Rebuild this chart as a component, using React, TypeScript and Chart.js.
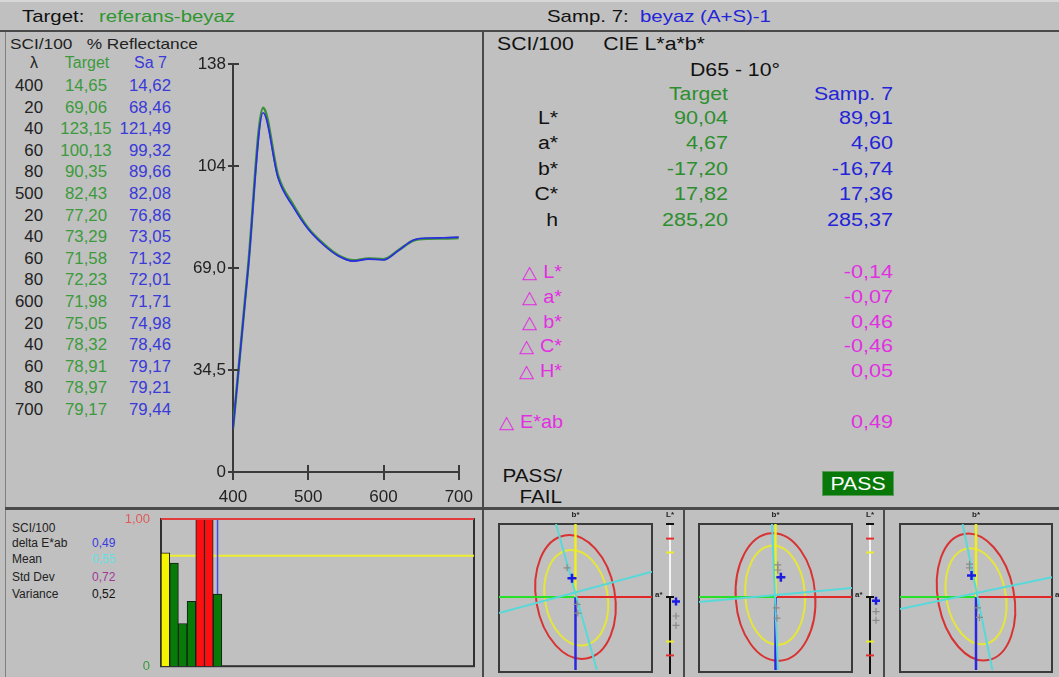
import React, { useEffect, useRef } from 'react';
import { Chart, registerables } from 'chart.js';
Chart.register(...registerables);

const FONT = '"Liberation Sans", Arial, Helvetica, sans-serif';
const BG = '#c0c0c0';
const AXIS = '#3a3a3a';
const GREEN_TXT = '#2e8e2e';
const BLUE_TXT = '#2424d8';
const MAGENTA = '#e030e0';

// ---------- spectral data ----------
const wavelengths = [400, 420, 440, 460, 480, 500, 520, 540, 560, 580, 600, 620, 640, 660, 680, 700];
const lambdaLabels = ['400', '20', '40', '60', '80', '500', '20', '40', '60', '80', '600', '20', '40', '60', '80', '700'];
const targetReflectance = [14.65, 69.06, 123.15, 100.13, 90.35, 82.43, 77.2, 73.29, 71.58, 72.23, 71.98, 75.05, 78.32, 78.91, 78.97, 79.17];
const sampleReflectance = [14.62, 68.46, 121.49, 99.32, 89.66, 82.08, 76.86, 73.05, 71.32, 72.01, 71.71, 74.98, 78.46, 79.17, 79.21, 79.44];
const yTickValues = [0, 34.5, 69, 103.5, 138];
const yTickLabels = ['0', '34,5', '69,0', '104', '138'];
const xTickValues = [400, 500, 600, 700];
const xTickLabels = ['400', '500', '600', '700'];

// ---------- CIELAB data ----------
const labLabels = ['L*', 'a*', 'b*', 'C*', 'h'];
const labTarget = ['90,04', '4,67', '-17,20', '17,82', '285,20'];
const labSample = ['89,91', '4,60', '-16,74', '17,36', '285,37'];
const deltaLabels = ['\u25B3 L*', '\u25B3 a*', '\u25B3 b*', '\u25B3 C*', '\u25B3 H*'];
const deltaValues = ['-0,14', '-0,07', '0,46', '-0,46', '0,05'];
const deltaELabel = '\u25B3 E*ab';
const deltaEValue = '0,49';

// ---------- statistics / bar data ----------
const statLabels = ['SCI/100', 'delta E*ab', 'Mean', 'Std Dev', 'Variance'];
const statValues = ['', '0,49', '0,55', '0,72', '0,52'];
const statColors = ['#111', '#3a3ae0', '#60e0e0', '#a03898', '#111'];
const barValues = [0.77, 0.7, 0.29, 0.44, 1.0, 1.0, 0.49];
const barColors = ['#f4f400', '#077a07', '#077a07', '#077a07', '#ff1010', '#ff1010', '#077a07'];
const barSlots = Array.from({ length: 36 }, (_, i) => String(i + 1));
const barLimit = 1.0;
const barMeanLine = 0.75;
const barCurrentIndex = 6;
const barTickValues = [0, 1];
const barTickLabels = ['0', '1,00'];

// ---------- tolerance plots (a*/b* normalised to tolerance box) ----------
const redEllipses = [
  { cx: 0, cy: 0, rx: 0.515, ry: 0.855, rot: -10 },
  { cx: 0, cy: 0, rx: 0.52, ry: 0.875, rot: -4 },
  { cx: 0, cy: 0, rx: 0.5, ry: 0.88, rot: -11 },
];
const yellowEllipses = [
  { cx: 0.01, cy: -0.01, rx: 0.41, ry: 0.66, rot: -10 },
  { cx: -0.005, cy: 0.025, rx: 0.39, ry: 0.68, rot: -4 },
  { cx: 0, cy: 0.01, rx: 0.39, ry: 0.665, rot: -11 },
];
const hueLines = [
  [{ x: -0.255, y: 1 }, { x: 0.28, y: -1 }],
  [{ x: -0.046, y: 1 }, { x: 0.033, y: -1 }],
  [{ x: -0.176, y: 1 }, { x: 0.216, y: -1 }],
];
const chromaLines = [
  [{ x: -1, y: -0.22 }, { x: 1, y: 0.345 }],
  [{ x: -1, y: -0.07 }, { x: 1, y: 0.125 }],
  [{ x: -1, y: -0.165 }, { x: 1, y: 0.27 }],
];
const sampleAB = [
  { x: -0.046, y: 0.257 },
  { x: 0.07, y: 0.27 },
  { x: -0.059, y: 0.296 },
];
const otherAB = [
  [{ x: -0.11, y: 0.4 }, { x: 0.02, y: -0.1 }, { x: 0.03, y: -0.22 }],
  [{ x: 0.03, y: 0.44 }, { x: 0.03, y: 0.37 }, { x: 0.01, y: -0.15 }, { x: 0.02, y: -0.29 }],
  [{ x: -0.085, y: 0.45 }, { x: -0.085, y: 0.4 }, { x: 0.02, y: -0.15 }, { x: 0.045, y: -0.28 }],
];
const sampleL = [-0.06, -0.05, -0.05];
const otherL = [[-0.26, -0.39], [-0.2, -0.32], [-0.2, -0.32]];
const lRedTol = 0.8;
const lYellowTol = 0.61;

// ---------- text helper ----------
function T(props: any) {
  const { x, y, children, color = '#111', size = 16, align = 'left', sx = 1.0, weight = 400 } = props;
  const tx = align === 'right' ? '-100%' : align === 'center' ? '-50%' : '0';
  const origin = align === 'right' ? 'right center' : align === 'center' ? 'center center' : 'left center';
  return (
    <div
      style={{
        position: 'absolute',
        left: x,
        top: y,
        color,
        fontSize: size,
        fontWeight: weight,
        fontFamily: FONT,
        whiteSpace: 'pre',
        lineHeight: 1,
        transform: `translate(${tx}, -50%) scaleX(${sx})`,
        transformOrigin: origin,
      }}
    >
      {children}
    </div>
  );
}

function Line(props: any) {
  const { x, y, w, h, color = '#4a4a4a' } = props;
  return <div style={{ position: 'absolute', left: x, top: y, width: w, height: h, background: color }} />;
}

// ---------- spectrum chart ----------
function SpectrumChart() {
  const ref = useRef<HTMLCanvasElement>(null);
  useEffect(() => {
    const crossTicks = {
      id: 'crossTicks',
      afterDraw(chart: any) {
        const { ctx, chartArea, scales } = chart;
        ctx.save();
        ctx.strokeStyle = AXIS;
        ctx.lineWidth = 2;
        ctx.beginPath();
        yTickValues.forEach((v) => {
          const y = Math.round(scales.y.getPixelForValue(v));
          ctx.moveTo(chartArea.left, y);
          ctx.lineTo(chartArea.left + 6, y);
        });
        xTickValues.forEach((v) => {
          const x = Math.round(scales.x.getPixelForValue(v));
          ctx.moveTo(x, chartArea.bottom);
          ctx.lineTo(x, chartArea.bottom - 7);
        });
        ctx.stroke();
        ctx.restore();
      },
    };
    const chart = new Chart(ref.current as HTMLCanvasElement, {
      type: 'line',
      data: {
        datasets: [
          {
            label: 'Sa 7',
            data: wavelengths.map((w, i) => ({ x: w, y: sampleReflectance[i] })),
            borderColor: '#2a2ae8',
            borderWidth: 1.6,
            pointRadius: 0,
            cubicInterpolationMode: 'monotone',
          },
          {
            label: 'Target',
            data: wavelengths.map((w, i) => ({ x: w, y: targetReflectance[i] })),
            borderColor: '#3b8f3b',
            borderWidth: 2.6,
            pointRadius: 0,
            cubicInterpolationMode: 'monotone',
          },
        ],
      },
      options: {
        animation: false,
        responsive: false,
        maintainAspectRatio: false,
        layout: { padding: { top: 14, right: 17, left: 0, bottom: 0 } },
        plugins: { legend: { display: false }, tooltip: { enabled: false } },
        scales: {
          x: {
            type: 'linear',
            min: 400,
            max: 700,
            afterBuildTicks: (s: any) => {
              s.ticks = xTickValues.map((v) => ({ value: v }));
            },
            afterFit: (s: any) => {
              s.height = 33;
            },
            grid: { drawOnChartArea: false, drawTicks: true, tickLength: 8, color: AXIS, lineWidth: 2 },
            border: { color: AXIS, width: 2 },
            ticks: {
              color: '#222',
              font: { family: FONT, size: 17 },
              padding: 7,
              maxRotation: 0,
              autoSkip: false,
              callback: (_v: any, i: number) => xTickLabels[i],
            },
          },
          y: {
            type: 'linear',
            min: 0,
            max: 138,
            afterBuildTicks: (s: any) => {
              s.ticks = yTickValues.map((v) => ({ value: v }));
            },
            afterFit: (s: any) => {
              s.width = 53;
            },
            grid: { drawOnChartArea: false, drawTicks: true, tickLength: 5, color: AXIS, lineWidth: 2 },
            border: { color: AXIS, width: 2 },
            ticks: {
              color: '#222',
              font: { family: FONT, size: 17 },
              padding: 2,
              autoSkip: false,
              callback: (_v: any, i: number) => yTickLabels[i],
            },
          },
        },
      } as any,
      plugins: [crossTicks],
    });
    return () => chart.destroy();
  }, []);
  return (
    <canvas
      ref={ref}
      width={300}
      height={455}
      style={{ position: 'absolute', left: 180, top: 50, width: 300, height: 455 }}
    />
  );
}

// ---------- delta E bar chart ----------
function DeltaBarChart() {
  const ref = useRef<HTMLCanvasElement>(null);
  useEffect(() => {
    const decor = {
      id: 'decor',
      beforeDatasetsDraw(chart: any) {
        const { ctx, chartArea: a, scales } = chart;
        ctx.save();
        ctx.strokeStyle = '#303030';
        ctx.lineWidth = 2;
        ctx.strokeRect(a.left, a.top, a.right - a.left, a.bottom - a.top);
        const ym = scales.y.getPixelForValue(barMeanLine);
        ctx.strokeStyle = '#eeee30';
        ctx.lineWidth = 2;
        ctx.beginPath();
        ctx.moveTo(a.left, ym);
        ctx.lineTo(a.right, ym);
        ctx.stroke();
        const xb = scales.x.getPixelForValue(barCurrentIndex);
        ctx.strokeStyle = '#4848f0';
        ctx.lineWidth = 1.5;
        ctx.beginPath();
        ctx.moveTo(xb, a.top);
        ctx.lineTo(xb, a.bottom);
        ctx.stroke();
        ctx.restore();
      },
      afterDatasetsDraw(chart: any) {
        const { ctx, chartArea: a, scales } = chart;
        ctx.save();
        const yl = scales.y.getPixelForValue(barLimit);
        ctx.strokeStyle = '#e03c3c';
        ctx.lineWidth = 2;
        ctx.beginPath();
        ctx.moveTo(a.left, yl);
        ctx.lineTo(a.right, yl);
        ctx.stroke();
        ctx.restore();
      },
    };
    const chart = new Chart(ref.current as HTMLCanvasElement, {
      type: 'bar',
      data: {
        labels: barSlots,
        datasets: [
          {
            data: barValues,
            backgroundColor: barColors,
            borderColor: '#1a1a1a',
            borderWidth: 1,
            barPercentage: 1,
            categoryPercentage: 1,
          },
        ],
      },
      options: {
        animation: false,
        responsive: false,
        maintainAspectRatio: false,
        layout: { padding: { top: 11, right: 6, bottom: 6, left: 0 } },
        plugins: { legend: { display: false }, tooltip: { enabled: false } },
        scales: {
          x: { display: false },
          y: {
            min: 0,
            max: 1,
            afterBuildTicks: (s: any) => {
              s.ticks = barTickValues.map((v) => ({ value: v }));
            },
            afterFit: (s: any) => {
              s.width = 41;
            },
            grid: { display: false },
            border: { display: false },
            ticks: {
              padding: 3,
              font: { family: FONT, size: 13 },
              color: (c: any) => (c.tick && c.tick.value === 1 ? '#e05a5a' : '#3a9a3a'),
              callback: (_v: any, i: number) => barTickLabels[i],
            },
          },
        },
      } as any,
      plugins: [decor],
    });
    return () => chart.destroy();
  }, []);
  return (
    <canvas
      ref={ref}
      width={360}
      height={169}
      style={{ position: 'absolute', left: 120, top: 508, width: 360, height: 169 }}
    />
  );
}

// ---------- tolerance ellipse plot ----------
function TolerancePlot(props: any) {
  const { index, left, width, padLeft, padRight } = props;
  const ref = useRef<HTMLCanvasElement>(null);
  useEffect(() => {
    const cross = (ctx: any, x: number, y: number, r: number, color: string, lw: number) => {
      ctx.strokeStyle = color;
      ctx.lineWidth = lw;
      ctx.beginPath();
      ctx.moveTo(x - r, y);
      ctx.lineTo(x + r, y);
      ctx.moveTo(x, y - r);
      ctx.lineTo(x, y + r);
      ctx.stroke();
    };
    const tol = {
      id: 'tol',
      beforeDatasetsDraw(chart: any) {
        const { ctx, chartArea: a, scales } = chart;
        const xs = scales.x;
        const ys = scales.y;
        ctx.save();
        ctx.strokeStyle = '#3a3a3a';
        ctx.lineWidth = 2;
        ctx.strokeRect(a.left, a.top, a.right - a.left, a.bottom - a.top + 2);
        // L* bar
        const lx = a.right + 18;
        const y0 = ys.getPixelForValue(0);
        ctx.lineWidth = 2;
        ctx.strokeStyle = '#f4f4f4';
        ctx.beginPath();
        ctx.moveTo(lx, ys.getPixelForValue(1));
        ctx.lineTo(lx, y0);
        ctx.stroke();
        ctx.strokeStyle = '#111';
        ctx.beginPath();
        ctx.moveTo(lx, y0);
        ctx.lineTo(lx, ys.getPixelForValue(-1) + 4);
        ctx.moveTo(lx - 4, ys.getPixelForValue(1));
        ctx.lineTo(lx + 4, ys.getPixelForValue(1));
        ctx.moveTo(lx - 4, y0);
        ctx.lineTo(lx + 4, y0);
        ctx.stroke();
        const tick = (v: number, c: string) => {
          const yy = ys.getPixelForValue(v);
          ctx.strokeStyle = c;
          ctx.beginPath();
          ctx.moveTo(lx - 4, yy);
          ctx.lineTo(lx + 4, yy);
          ctx.stroke();
        };
        tick(lRedTol, '#e03030');
        tick(-lRedTol, '#e03030');
        tick(lYellowTol, '#eaea30');
        tick(-lYellowTol, '#eaea30');
        otherL[index].forEach((v) => cross(ctx, lx + 6, ys.getPixelForValue(v), 3.5, '#8a8a8a', 1.2));
        cross(ctx, lx + 6, ys.getPixelForValue(sampleL[index]), 4, '#1c1ce0', 2.5);
        // labels
        ctx.fillStyle = '#222';
        ctx.font = `bold 8px ${FONT}`;
        ctx.textAlign = 'center';
        ctx.textBaseline = 'middle';
        ctx.fillText('b*', xs.getPixelForValue(0), a.top - 9);
        ctx.fillText('L*', lx, a.top - 9);
        ctx.textAlign = 'left';
        ctx.fillText('a*', a.right + 3, y0 - 2);
        // ellipses
        const ell = (e: any, color: string) => {
          const cx = xs.getPixelForValue(e.cx);
          const cy = ys.getPixelForValue(e.cy);
          const rx = Math.abs(xs.getPixelForValue(e.rx) - xs.getPixelForValue(0));
          const ry = Math.abs(ys.getPixelForValue(e.ry) - ys.getPixelForValue(0));
          ctx.strokeStyle = color;
          ctx.lineWidth = 2;
          ctx.beginPath();
          ctx.ellipse(cx, cy, rx, ry, (e.rot * Math.PI) / 180, 0, Math.PI * 2);
          ctx.stroke();
        };
        ell(redEllipses[index], '#d83232');
        ell(yellowEllipses[index], '#e6e638');
        ctx.restore();
      },
    };
    const seg = (data: any, color: string, w = 2) => ({
      data,
      showLine: true,
      borderColor: color,
      borderWidth: w,
      pointRadius: 0,
    });
    const chart = new Chart(ref.current as HTMLCanvasElement, {
      type: 'scatter',
      data: {
        datasets: [
          {
            data: [sampleAB[index]],
            pointStyle: 'cross',
            pointRadius: 4.5,
            borderColor: '#1c1ce0',
            borderWidth: 2.5,
            backgroundColor: '#1c1ce0',
          },
          {
            data: otherAB[index],
            pointStyle: 'cross',
            pointRadius: 3.5,
            borderColor: '#8a8a8a',
            borderWidth: 1.2,
            backgroundColor: '#8a8a8a',
          },
          seg(hueLines[index], '#58d8d8', 2),
          seg(chromaLines[index], '#58d8d8', 2),
          seg([{ x: 0, y: 0 }, { x: 0, y: -1 }], '#2828e0', 2.5),
          seg([{ x: 0, y: 0 }, { x: 0, y: 1 }], '#eeee20', 2.5),
          seg([{ x: 0, y: 0 }, { x: 1, y: 0 }], '#e02828', 2),
          seg([{ x: -1, y: 0 }, { x: 0, y: 0 }], '#28e028', 2),
        ],
      },
      options: {
        animation: false,
        responsive: false,
        maintainAspectRatio: false,
        layout: { padding: { top: 14, bottom: 1, left: padLeft, right: padRight } },
        plugins: { legend: { display: false }, tooltip: { enabled: false } },
        scales: {
          x: { type: 'linear', min: -1, max: 1, display: false },
          y: { type: 'linear', min: -1, max: 1, display: false },
        },
      } as any,
      plugins: [tol],
    });
    return () => chart.destroy();
  }, []);
  return (
    <canvas
      ref={ref}
      width={width}
      height={167}
      style={{ position: 'absolute', left, top: 510, width, height: 167 }}
    />
  );
}

export default function App() {
  const rowY = (i: number) => 86 + i * 21.6;
  const labY = (i: number) => 118 + i * 25.4;
  const dY = (i: number) => 272 + i * 24.8;
  const statY = [528, 543, 559, 577, 594];
  return (
    <div
      style={{
        position: 'absolute',
        left: 0,
        top: 0,
        width: 1059,
        height: 677,
        background: BG,
        overflow: 'hidden',
        fontFamily: FONT,
      }}
    >
      {/* frame lines */}
      <Line x={0} y={0} w={1059} h={2} color="#d8d8d8" />
      <Line x={0} y={30} w={1059} h={2} color="#4a4a4a" />
      <Line x={5} y={32} w={1} h={645} color="#808080" />
      <Line x={482} y={32} w={2} h={645} color="#4a4a4a" />
      <Line x={5} y={507} w={1054} h={3} color="#4a4a4a" />
      <Line x={683} y={508} w={2} h={169} color="#4a4a4a" />
      <Line x={883} y={508} w={2} h={169} color="#4a4a4a" />

      {/* header */}
      <T x={22} y={16} size={17} sx={1.2}>Target:</T>
      <T x={99} y={16} size={17} sx={1.2} color="#2e962e">referans-beyaz</T>
      <T x={547} y={16} size={17} sx={1.2}>Samp. 7:</T>
      <T x={640} y={16} size={17} sx={1.2} color={BLUE_TXT}>beyaz (A+S)-1</T>

      {/* left table */}
      <T x={10} y={43} size={15} sx={1.15} color="#222">{'SCI/100   % Reflectance'}</T>
      <T x={34} y={63} size={16} align="center" color="#222">λ</T>
      <T x={87} y={63} size={16} align="center" color="#3c9a3c">Target</T>
      <T x={167} y={63} size={16} align="right" color="#3a3ad8">Sa 7</T>
      {wavelengths.map((w, i) => (
        <React.Fragment key={w}>
          <T x={43} y={rowY(i)} size={16} sx={1.05} align="right" color="#222">{lambdaLabels[i]}</T>
          <T x={86} y={rowY(i)} size={16} sx={1.05} align="center" color="#3c9a3c">
            {targetReflectance[i].toFixed(2).replace('.', ',')}
          </T>
          <T x={171} y={rowY(i)} size={16} sx={1.05} align="right" color="#3a3ad8">
            {sampleReflectance[i].toFixed(2).replace('.', ',')}
          </T>
        </React.Fragment>
      ))}

      <SpectrumChart />

      {/* right panel */}
      <T x={497} y={44} size={18} sx={1.18}>{'SCI/100     CIE L*a*b*'}</T>
      <T x={735} y={70} size={18} sx={1.18} align="center">D65 - 10°</T>
      <T x={728} y={94} size={18} sx={1.18} align="right" color={GREEN_TXT}>Target</T>
      <T x={893} y={94} size={18} sx={1.18} align="right" color={BLUE_TXT}>Samp. 7</T>
      {labLabels.map((l, i) => (
        <React.Fragment key={l}>
          <T x={558} y={labY(i)} size={18} sx={1.18} align="right">{l}</T>
          <T x={728} y={labY(i)} size={18} sx={1.2} align="right" color={GREEN_TXT}>{labTarget[i]}</T>
          <T x={893} y={labY(i)} size={18} sx={1.2} align="right" color={BLUE_TXT}>{labSample[i]}</T>
        </React.Fragment>
      ))}
      {deltaLabels.map((l, i) => (
        <React.Fragment key={l}>
          <T x={562} y={dY(i)} size={18} sx={1.1} align="right" color={MAGENTA}>{l}</T>
          <T x={893} y={dY(i)} size={18} sx={1.2} align="right" color={MAGENTA}>{deltaValues[i]}</T>
        </React.Fragment>
      ))}
      <T x={563} y={422} size={18} sx={1.1} align="right" color={MAGENTA}>{deltaELabel}</T>
      <T x={893} y={422} size={18} sx={1.2} align="right" color={MAGENTA}>{deltaEValue}</T>
      <T x={562} y={476} size={18} sx={1.15} align="right">PASS/</T>
      <T x={562} y={497} size={18} sx={1.15} align="right">FAIL</T>
      <div
        style={{
          position: 'absolute',
          left: 822,
          top: 471,
          width: 72,
          height: 25,
          background: '#087808',
          border: '1px solid #5a9a5a',
          boxSizing: 'border-box',
        }}
      />
      <T x={858} y={484} size={18} sx={1.18} align="center" color="#ffffff">PASS</T>

      {/* bottom-left stats */}
      {statLabels.map((l, i) => (
        <React.Fragment key={l}>
          <T x={12} y={statY[i]} size={12} color="#222">{l}</T>
          <T x={92} y={statY[i]} size={12} color={statColors[i]}>{statValues[i]}</T>
        </React.Fragment>
      ))}
      <DeltaBarChart />

      {/* tolerance plots */}
      <TolerancePlot index={0} left={485} width={198} padLeft={14} padRight={31} />
      <TolerancePlot index={1} left={685} width={198} padLeft={14} padRight={31} />
      <TolerancePlot index={2} left={885} width={174} padLeft={15} padRight={6} />
    </div>
  );
}
